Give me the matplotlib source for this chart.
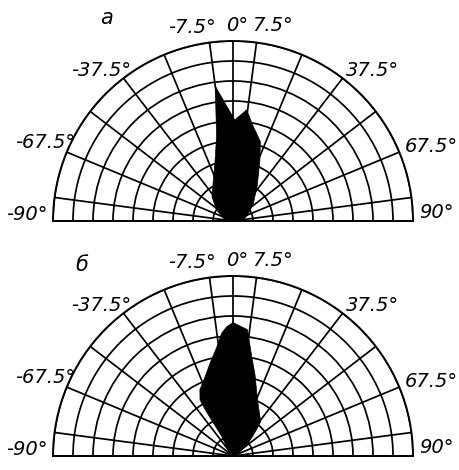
import numpy as np
import matplotlib.pyplot as plt

# Диаграммы направленности: угол (град) и радиус в делениях сетки (0..9)
theta_a = [-90, -74, -56, -41, -26, -18, -11, -7.5, 1, 7, 12, 19, 24, 35, 49, 68, 84, 90]
r_a = [0.3, 0.5, 1.0, 1.6, 2.25, 2.95, 4.3, 6.8, 5.05, 5.6, 4.85, 4.2, 3.3, 2.1, 1.35, 0.8, 0.5, 0.4]

theta_b = [-90, -38, -30, -31, -30.5, -26.6, -19.4, -13.9, -8.5, -5.3, -2.8, 0,
           6.5, 10.7, 15.2, 24, 39, 45, 52, 63, 90]
r_b = [0.15, 0.38, 1.12, 2.7, 3.25, 3.7, 4.2, 4.78, 5.5, 6.16, 6.47, 6.67,
       6.36, 5.05, 4.2, 3.02, 2.2, 1.4, 0.85, 0.3, 0.15]

spokes = [-82.5, -67.5, -52.5, -37.5, -22.5, -7.5, 0, 7.5, 22.5, 37.5, 52.5, 67.5, 82.5]
rings = [1, 2, 3, 4, 5, 6, 7, 8, 9]
angle_labels = ['-90°', '-67.5°', '-37.5°', '-7.5°', '0°', '7.5°', '37.5°', '67.5°', '90°']
panels = ['а', 'б']


def draw_pattern(ax, theta, r, letter, letter_pos):
    ax.set_theta_zero_location('N')
    ax.set_theta_direction(-1)
    ax.set_thetamin(-90)
    ax.set_thetamax(90)
    ax.set_rlim(0, 9)

    ax.set_xticks(np.deg2rad(spokes))
    ax.set_xticklabels([])
    ax.set_yticks(rings)
    ax.set_yticklabels([])
    ax.tick_params(length=0)
    ax.grid(True, color='black', lw=1.25)
    for sp in ax.spines.values():
        sp.set_color('black')
        sp.set_linewidth(1.4)

    ax.fill(np.deg2rad(theta), r, color='black', lw=0.5, zorder=3)

    # подписи углов снаружи полуокружности
    pos = [(-88.3, 10.3), (-67.4, 10.15), (-41.3, 10.0), (-12, 9.87), (1.2, 9.8),
           (11.5, 9.95), (43, 10.26), (69.3, 10.6), (87.5, 10.16)]
    for (a, rr), txt in zip(pos, angle_labels):
        ax.text(np.deg2rad(a), rr, txt, ha='center', va='center', fontsize=14,
                style='italic', clip_on=False)
    ax.text(np.deg2rad(letter_pos[0]), letter_pos[1], letter, ha='center', va='center',
            fontsize=15, style='italic', clip_on=False)


fig = plt.figure(figsize=(4.59, 4.70), dpi=100)
# квадратные области: полукруг вписывается по центру квадрата
ax1 = fig.add_axes([0.1155, 0.3383, 0.7843, 0.7660], projection='polar')
ax2 = fig.add_axes([0.1155, -0.1617, 0.7843, 0.7660], projection='polar')

draw_pattern(ax1, theta_a, r_a, panels[0], (-32, 11.95))
draw_pattern(ax2, theta_b, r_b, panels[1], (-38.3, 12.2))

fig.savefig('out.png', dpi=100, facecolor='white')
